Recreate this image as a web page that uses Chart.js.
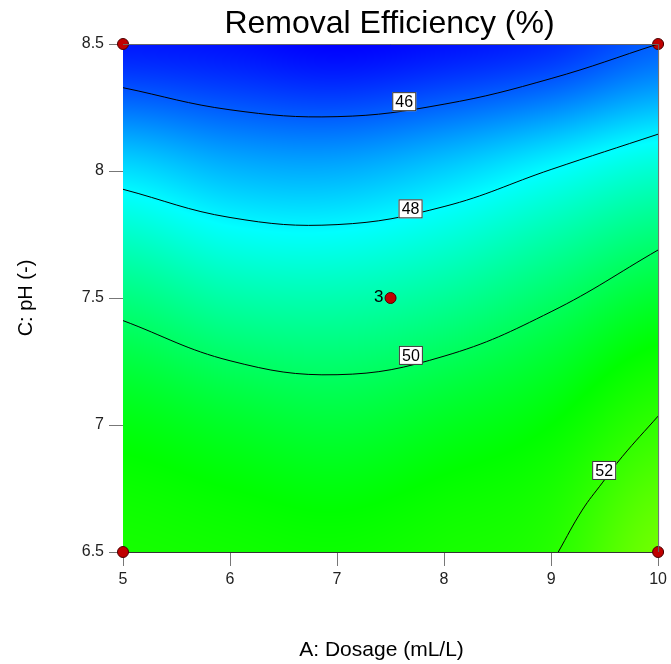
<!DOCTYPE html>
<html>
<head>
<meta charset="utf-8">
<script src="https://cdn.jsdelivr.net/npm/chart.js@4.4.1/dist/chart.umd.min.js"></script>
<style>
  body { margin: 0; background: #fff; }
  #wrap { width: 671px; height: 664px; }
</style>
</head>
<body>
<div id="wrap"><canvas id="contourChart"></canvas></div>
<script>
// axis values (A: dosage, C: pH)
const dosage = [5, 6, 7, 8, 9, 10];
const pH = [6.5, 7, 7.5, 8, 8.5];
const xTicks = [5, 6, 7, 8, 9, 10];
const yTicks = [6.5, 7, 7.5, 8, 8.5];

// removal efficiency (%), one row per pH
const efficiency = [
  [51.6, 51.5, 51.4, 51.6, 51.9, 53.3], // pH 6.5
  [51.0, 50.7, 50.5, 50.8, 51.2, 52.1], // pH 7
  [49.6, 49.1, 49.0, 49.3, 49.9, 50.6], // pH 7.5
  [47.6, 47.1, 47.0, 47.4, 48.0, 48.6], // pH 8
  [45.1, 45.0, 44.8, 45.0, 45.3, 46.0], // pH 8.5
];

// contour lines: pH where each level crosses the dosage values
const contour46 = [8.328, 8.241, 8.214, 8.263, 8.364, 8.5];
const contour48 = [7.928, 7.817, 7.789, 7.860, 8.006, 8.145];
const contour50 = [7.411, 7.253, 7.198, 7.271, 7.446, 7.689];
// the 52 line only crosses the lower right corner
const contour52 = [
  {x: 9.067, y: 6.5}, {x: 9.291, y: 6.665}, {x: 9.478, y: 6.772}, {x: 9.664, y: 6.875},
  {x: 10, y: 7.035},
];
const contourLabels = [
  {text: '46', x: 7.628, y: 8.273},
  {text: '48', x: 7.687, y: 7.851},
  {text: '50', x: 7.690, y: 7.274},
  {text: '52', x: 9.496, y: 6.821},
];

// design points (the centre one was run 3 times)
const designPoints = [
  {x: 5, y: 6.5}, {x: 5, y: 8.5}, {x: 10, y: 6.5}, {x: 10, y: 8.5}, {x: 7.5, y: 7.5},
];
const centerRuns = '3';

// colour ramp: value -> rgb
const colorStops = [
  [44.8, [0, 0, 255]],
  [48.0, [0, 255, 255]],
  [51.2, [0, 255, 0]],
  [56.0, [255, 255, 0]],
];

const FONT = '"Liberation Sans", Arial, sans-serif';

// smooth (Catmull-Rom) lookup of the grid for the background shading
function cubic(p0, p1, p2, p3, t) {
  return p1 + 0.5 * t * (p2 - p0 + t * (2 * p0 - 5 * p1 + 4 * p2 - p3 + t * (3 * (p1 - p2) + p3 - p0)));
}

function cell(arr, v) {
  let i = 0;
  while (i < arr.length - 2 && v > arr[i + 1]) i++;
  const t = (v - arr[i]) / (arr[i + 1] - arr[i]);
  return [i, Math.max(0, Math.min(1, t))];
}

function rowValue(row, i, t) {
  const n = row.length;
  const g = k => row[Math.max(0, Math.min(n - 1, k))];
  return cubic(g(i - 1), g(i), g(i + 1), g(i + 2), t);
}

function valueAt(xv, yv) {
  const [i, tx] = cell(dosage, xv);
  const [j, ty] = cell(pH, yv);
  const m = efficiency.length;
  const r = k => rowValue(efficiency[Math.max(0, Math.min(m - 1, k))], i, tx);
  return cubic(r(j - 1), r(j), r(j + 1), r(j + 2), ty);
}

function colorFor(v) {
  if (v <= colorStops[0][0]) return colorStops[0][1];
  for (let k = 0; k < colorStops.length - 1; k++) {
    const [v0, c0] = colorStops[k];
    const [v1, c1] = colorStops[k + 1];
    if (v <= v1) {
      const t = (v - v0) / (v1 - v0);
      return [0, 1, 2].map(n => Math.round(c0[n] + (c1[n] - c0[n]) * t));
    }
  }
  return colorStops[colorStops.length - 1][1];
}

const heatmapPlugin = {
  id: 'heatmap',
  beforeDatasetsDraw(chart) {
    const {ctx, chartArea: area, scales} = chart;
    const w = Math.round(area.right - area.left);
    const h = Math.round(area.bottom - area.top);
    const img = ctx.createImageData(w, h);
    for (let py = 0; py < h; py++) {
      const yv = scales.y.getValueForPixel(area.top + py + 0.5);
      for (let px = 0; px < w; px++) {
        const xv = scales.x.getValueForPixel(area.left + px + 0.5);
        const c = colorFor(valueAt(xv, yv));
        const o = (py * w + px) * 4;
        img.data[o] = c[0];
        img.data[o + 1] = c[1];
        img.data[o + 2] = c[2];
        img.data[o + 3] = 255;
      }
    }
    ctx.putImageData(img, Math.round(area.left), Math.round(area.top));
  },
};

const textPlugin = {
  id: 'texts',
  afterDatasetsDraw(chart) {
    const {ctx, chartArea: area, scales} = chart;
    ctx.save();
    // frame top and right
    ctx.strokeStyle = '#666';
    ctx.lineWidth = 1;
    ctx.beginPath();
    ctx.moveTo(area.left, area.top + 0.5);
    ctx.lineTo(area.right + 0.5, area.top + 0.5);
    ctx.lineTo(area.right + 0.5, area.bottom);
    ctx.stroke();

    // contour labels
    ctx.font = '16px ' + FONT;
    ctx.textAlign = 'center';
    ctx.textBaseline = 'middle';
    contourLabels.forEach(l => {
      const x = scales.x.getPixelForValue(l.x);
      const y = scales.y.getPixelForValue(l.y);
      ctx.fillStyle = '#fff';
      ctx.fillRect(x - 12, y - 9.5, 24, 19);
      ctx.strokeStyle = '#333';
      ctx.strokeRect(x - 11.5, y - 9, 23, 18);
      ctx.fillStyle = '#000';
      ctx.fillText(l.text, x, y + 1);
    });
    ctx.restore();
  },
  afterDraw(chart) {
    const {ctx, chartArea: area, scales} = chart;
    ctx.save();
    ctx.fillStyle = '#000';
    ctx.textAlign = 'center';
    ctx.textBaseline = 'middle';
    const cx = (area.left + area.right) / 2;
    ctx.font = '32px ' + FONT;
    ctx.fillText('Removal Efficiency (%)', cx - 1, 24);
    ctx.font = '21px ' + FONT;
    ctx.fillText('A: Dosage (mL/L)', cx - 9, 650);
    ctx.font = '20px ' + FONT;
    ctx.save();
    ctx.translate(26, (area.top + area.bottom) / 2);
    ctx.rotate(-Math.PI / 2);
    ctx.fillText('C: pH (-)', 0, 0);
    ctx.restore();

    // replicate count next to the centre point
    const px = scales.x.getPixelForValue(7.5);
    const py = scales.y.getPixelForValue(7.5);
    ctx.font = '17px ' + FONT;
    ctx.textAlign = 'right';
    ctx.fillText(centerRuns, px - 7, py - 1);
    ctx.restore();
  },
};

const lineStyle = {
  showLine: true,
  pointRadius: 0,
  borderColor: '#000',
  borderWidth: 1,
  tension: 0.4,
};

const onDosage = (ys) => ys.map((y, i) => ({x: dosage[i], y}));

const ctx = document.getElementById('contourChart').getContext('2d');

new Chart(ctx, {
  type: 'scatter',
  data: {
    datasets: [
      {label: '46', data: onDosage(contour46), ...lineStyle},
      {label: '48', data: onDosage(contour48), ...lineStyle},
      {label: '50', data: onDosage(contour50), ...lineStyle},
      {label: '52', data: contour52, ...lineStyle},
      {
        label: 'Design points',
        data: designPoints,
        pointRadius: 5.5,
        pointBackgroundColor: '#c00000',
        pointBorderColor: '#4a0000',
        pointBorderWidth: 1,
        clip: false,
      },
    ],
  },
  options: {
    responsive: true,
    maintainAspectRatio: false,
    animation: false,
    layout: { padding: { top: 44, right: 12, left: 0, bottom: 0 } },
    plugins: {
      legend: { display: false },
      tooltip: { enabled: false },
      title: { display: false },
    },
    scales: {
      x: {
        type: 'linear',
        min: 5,
        max: 10,
        afterBuildTicks: (scale) => { scale.ticks = xTicks.map(v => ({value: v})); },
        afterFit: (scale) => { scale.height = 112; },
        ticks: {
          color: '#222', font: { family: FONT, size: 16 }, padding: 4, maxRotation: 0,
          callback: (v) => String(v),
        },
        grid: { drawOnChartArea: false, tickLength: 14, color: '#777' },
        border: { color: '#333', width: 1 },
      },
      y: {
        type: 'linear',
        min: 6.5,
        max: 8.5,
        afterBuildTicks: (scale) => { scale.ticks = yTicks.map(v => ({value: v})); },
        afterFit: (scale) => { scale.width = 123; },
        ticks: {
          color: '#222', font: { family: FONT, size: 16 }, padding: 5,
          callback: (v) => String(v),
        },
        grid: { drawOnChartArea: false, tickLength: 14, color: '#777' },
        border: { color: '#333', width: 1 },
      },
    },
  },
  plugins: [heatmapPlugin, textPlugin],
});
</script>
</body>
</html>
